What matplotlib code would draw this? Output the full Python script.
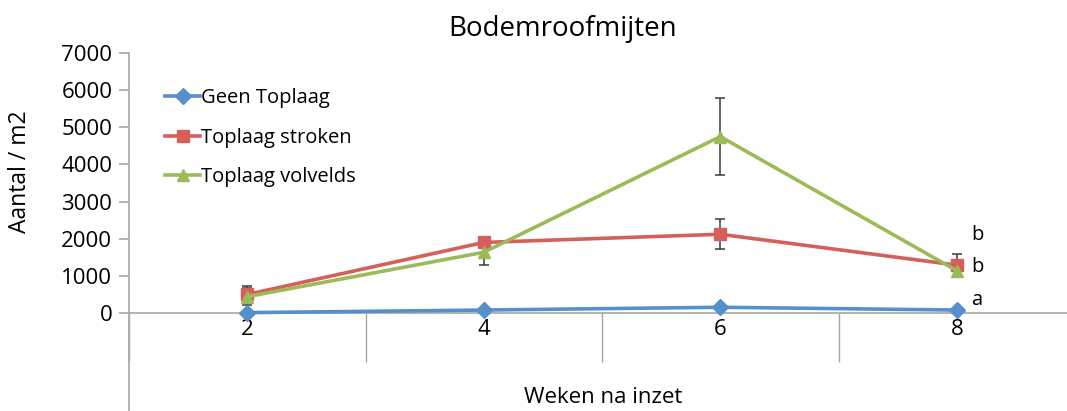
import matplotlib.pyplot as plt
from matplotlib.ticker import FixedLocator

plt.rcParams['font.family'] = ['Open Sans', 'DejaVu Sans']

# data
weken = ["2", "4", "6", "8"]
geen_toplaag = [10, 80, 155, 80]
geen_err = [0, 0, 0, 0]
toplaag_stroken = [500, 1900, 2120, 1290]
stroken_err = [225, 0, 410, 300]
toplaag_volvelds = [440, 1635, 4750, 1140]
volvelds_err = [230, 340, 1040, 160]
letters = ["b", "b", "a"]
letter_y = [2100, 1240, 350]

W, H = 1067, 411
fig = plt.figure(figsize=(W / 100, H / 100), dpi=100)
ax = fig.add_axes([129 / W, 1 / H, 1 - 129 / W, 357 / H])

x = list(range(1, len(weken) + 1))
series = [
    ("Geen Toplaag", geen_toplaag, geen_err, "#5590CC", "D", 8),
    ("Toplaag stroken", toplaag_stroken, stroken_err, "#D65F5A", "s", 8.5),
    ("Toplaag volvelds", toplaag_volvelds, volvelds_err, "#9BBB59", "^", 9),
]
for naam, vals, err, kleur, mk, ms in series:
    ax.plot(x, vals, color=kleur, lw=2.6, marker=mk, ms=ms, label=naam, zorder=3)
    # alleen foutbalken tekenen waar er een fout is
    xs = [xi for xi, e in zip(x, err) if e > 0]
    vs = [v for v, e in zip(vals, err) if e > 0]
    es = [e for e in err if e > 0]
    if es:
        ax.errorbar(xs, vs, yerr=es, fmt="none", ecolor="#3A3A3A",
                    elinewidth=1.1, capsize=3.5, capthick=1.1, zorder=2.5)

for l, yv in zip(letters, letter_y):
    ax.text(4.06, yv, l, fontsize=14.5, va="center", ha="left")

ax.set_xlim(0.5, 0.5 + (W - 129) / 236.5)
ax.set_ylim(-2611, 7000)
ax.set_yticks(range(0, 7001, 1000))
ax.set_xticks(x)
ax.set_xticklabels(weken)
ax.xaxis.set_minor_locator(FixedLocator([0.5, 1.5, 2.5, 3.5, 4.5]))

for s in ["top", "right"]:
    ax.spines[s].set_visible(False)
ax.spines["bottom"].set_position(("data", 0))
for s in ["left", "bottom"]:
    ax.spines[s].set_color("#A6A6A6")
    ax.spines[s].set_linewidth(1.2)

ax.tick_params(axis="y", direction="out", length=7, width=1.2, color="#A6A6A6",
               labelsize=16, pad=5)
ax.tick_params(axis="x", which="major", length=0, labelsize=16, pad=4)
ax.tick_params(axis="x", which="minor", direction="out", length=35, width=1,
               color="#A6A6A6")

leg = ax.legend(loc="upper left", bbox_to_anchor=(165 / W, 1 - 88 / H),
                bbox_transform=fig.transFigure, frameon=False, fontsize=14.5,
                handlelength=1.75, handletextpad=0.05, labelspacing=0.98,
                borderpad=0, borderaxespad=0)

fig.text(563 / W, 1 - 29 / H, "Bodemroofmijten", fontsize=20, ha="center", va="center")
fig.text(603 / W, 1 - 397 / H, "Weken na inzet", fontsize=16, ha="center", va="center")
fig.text(20 / W, 1 - 172 / H, "Aantal / m2", fontsize=16.5, rotation=90,
         ha="center", va="center")

fig.savefig("out.png", dpi=100)
